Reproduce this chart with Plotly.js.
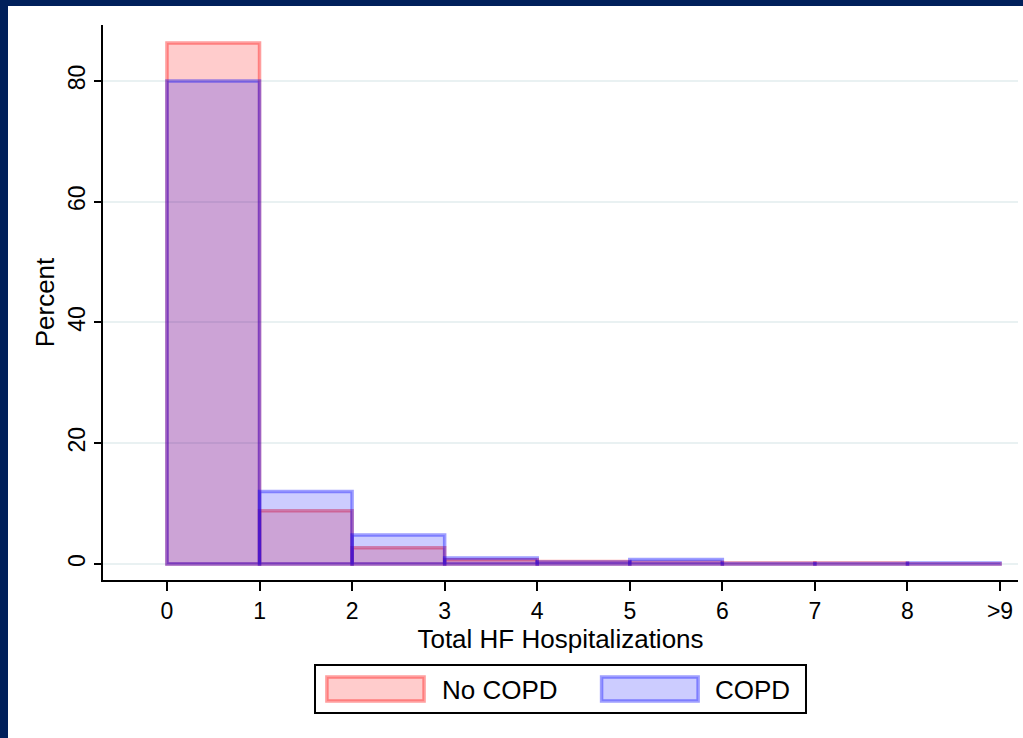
<!DOCTYPE html>
<html>
<head>
<meta charset="utf-8">
<script src="https://cdn.plot.ly/plotly-3.0.1.min.js"></script>
<style>
  html, body { margin: 0; padding: 0; background: #ffffff; }
  #frame { position: absolute; left: 0; top: 0; width: 1023px; height: 738px; background: #ffffff; overflow: hidden; }
  #bandTop { position: absolute; left: 0; top: 0; width: 1023px; height: 6px; background: #00205b; }
  #bandLeft { position: absolute; left: 0; top: 0; width: 8px; height: 738px; background: #00205b; }
  #chart { position: absolute; left: 8px; top: 6px; width: 1015px; height: 732px; }
</style>
</head>
<body>
<div id="frame">
  <div id="chart"></div>
  <div id="bandTop"></div>
  <div id="bandLeft"></div>
</div>
<script>
// Histogram bins (left edges), each bin one unit wide
var binStarts = [0, 1, 2, 3, 4, 5, 6, 7, 8];
var binWidth = 1;
// Percent per bin
var noCopd = [86.3, 8.8, 2.7, 0.7, 0.4, 0.3, 0.15, 0.15, 0.03];
var copd   = [80.0, 12.0, 4.8, 1.0, 0.35, 0.75, 0.1, 0.1, 0.18];
var seriesNames = ["No COPD", "COPD"];
// Axis ticks
var xTickVals = [0, 1, 2, 3, 4, 5, 6, 7, 8, 9];
var xTickText = ["0", "1", "2", "3", "4", "5", "6", "7", "8", ">9"];
var yTickVals = [0, 20, 40, 60, 80];
var xTitle = "Total HF Hospitalizations";
var yTitle = "Percent";

var FONT = '"Liberation Sans", Arial, Helvetica, sans-serif';
var redFill = "rgba(255,0,0,0.2)", redLine = "rgba(255,0,0,0.38)";
var blueFill = "rgba(0,0,255,0.2)", blueLine = "rgba(0,0,255,0.38)";

function widths(n) { var a = []; for (var i = 0; i < n; i++) a.push(binWidth); return a; }

var traces = [
  {
    type: "bar", name: seriesNames[0], x: binStarts, y: noCopd,
    width: widths(binStarts.length), offset: 0,
    marker: { color: redFill, line: { color: redLine, width: 3.5 } },
    showlegend: false, hoverinfo: "x+y"
  },
  {
    type: "bar", name: seriesNames[1], x: binStarts, y: copd,
    width: widths(binStarts.length), offset: 0,
    marker: { color: blueFill, line: { color: blueLine, width: 3.5 } },
    showlegend: false, hoverinfo: "x+y"
  }
];

// Custom legend (paper coordinates, relative to plot area)
var shapes = [
  { type: "rect", xref: "paper", yref: "paper", x0: 0.2317, x1: 0.7683, y0: -0.1532, y1: -0.2396,
    line: { color: "#000000", width: 2 }, fillcolor: "#ffffff" },
  { type: "rect", xref: "paper", yref: "paper", x0: 0.2447, x1: 0.3509, y0: -0.1748, y1: -0.2180,
    line: { color: redLine, width: 3.5 }, fillcolor: redFill },
  { type: "rect", xref: "paper", yref: "paper", x0: 0.5449, x1: 0.6504, y0: -0.1748, y1: -0.2180,
    line: { color: blueLine, width: 3.5 }, fillcolor: blueFill }
];
var annotations = [
  { xref: "paper", yref: "paper", x: 0.3680, y: -0.1985, xanchor: "left", yanchor: "middle",
    text: seriesNames[0], showarrow: false, font: { family: FONT, size: 26, color: "#000000" } },
  { xref: "paper", yref: "paper", x: 0.6670, y: -0.1985, xanchor: "left", yanchor: "middle",
    text: seriesNames[1], showarrow: false, font: { family: FONT, size: 26, color: "#000000" } }
];

var layout = {
  width: 1015, height: 732,
  margin: { l: 95, r: 5, t: 19, b: 158, pad: 0 },
  paper_bgcolor: "#ffffff", plot_bgcolor: "#ffffff",
  barmode: "overlay", bargap: 0,
  font: { family: FONT, size: 23, color: "#000000" },
  showlegend: false,
  xaxis: {
    range: [-0.691, 9.194], tickmode: "array", tickvals: xTickVals, ticktext: xTickText,
    showgrid: false, zeroline: false, showline: true, linecolor: "#000000", linewidth: 2,
    ticks: "outside", ticklen: 9, tickwidth: 2, tickcolor: "#000000",
    tickfont: { family: FONT, size: 23, color: "#000000" },
    title: { text: xTitle, font: { family: FONT, size: 26, color: "#000000" }, standoff: 2 },
    fixedrange: true
  },
  yaxis: {
    range: [-2.65, 89.27], tickmode: "array", tickvals: yTickVals,
    tickangle: -90,
    showgrid: true, gridcolor: "#e9f1f2", gridwidth: 2,
    zeroline: false, showline: true, linecolor: "#000000", linewidth: 2,
    ticks: "outside", ticklen: 7, tickwidth: 2, tickcolor: "#000000",
    tickfont: { family: FONT, size: 23, color: "#000000" },
    title: { text: yTitle, font: { family: FONT, size: 26, color: "#000000" }, standoff: 2 },
    fixedrange: true
  },
  shapes: shapes,
  annotations: annotations
};

Plotly.newPlot("chart", traces, layout, { displayModeBar: false, staticPlot: true });
</script>
</body>
</html>
